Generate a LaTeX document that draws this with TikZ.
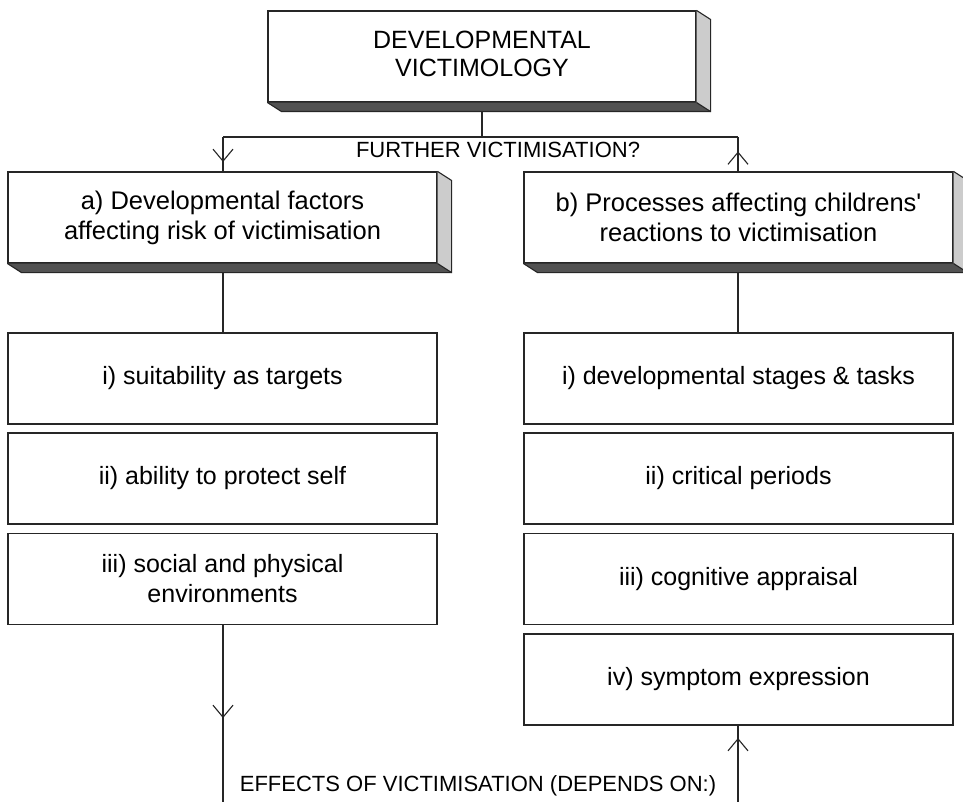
\documentclass[tikz,border=0pt]{standalone}
\usepackage{fontspec}
\setmainfont{Liberation Sans}[Ligatures=TeXOff]
\usetikzlibrary{calc,arrows.meta,decorations.markings}

% depth of the extruded slab behind the raised boxes
\newcommand{\slabdx}{14}
\newcommand{\slabdy}{9}

% grey side and bottom faces of a raised box
\newcommand{\slab}[1]{%
  \fill[sideface] (#1.north east) -- ++(\slabdx,\slabdy) -- ($(#1.south east)+(\slabdx,\slabdy)$) -- (#1.south east) -- cycle;
  \fill[bottomface] (#1.south west) -- (#1.south east) -- ($(#1.south east)+(\slabdx,\slabdy)$) -- ($(#1.south west)+(\slabdx,\slabdy)$) -- cycle;
  \draw[edge] (#1.north east) -- ++(\slabdx,\slabdy) -- ($(#1.south east)+(\slabdx,\slabdy)$) -- ($(#1.south west)+(\slabdx,\slabdy)$) -- (#1.south west);
  \draw[edge] (#1.south east) -- ++(\slabdx,\slabdy);
}

\tikzset{
  x=1pt, y=-1pt,
  edge/.style={draw=black!85, line width=1.1pt},
  sideface/.style={fill=black!20},
  bottomface/.style={fill=black!68},
  raised/.style={edge, fill=white, inner sep=0pt, align=center,
    minimum width=429pt, minimum height=91pt, font=\fontsize{25.5}{30}\selectfont},
  headbox/.style={raised, minimum width=428pt, font=\fontsize{25}{29}\selectfont},
  itembox/.style={edge, fill=white, inner sep=0pt, align=center,
    minimum width=429pt, minimum height=91pt, font=\fontsize{25}{30}\selectfont},
  flowlabel/.style={font=\fontsize{22}{26}\selectfont, inner sep=0pt},
  link/.style={edge},
  midtip/.style={postaction=decorate, decoration={markings,
    mark=at position #1 with {\arrow{Straight Barb[length=12pt,width=20pt,line width=1.1pt]}}}},
}

\begin{document}
\begin{tikzpicture}
\useasboundingbox[fill=white] (0,0) rectangle (963,802);

% top heading
\node[headbox] (top) at (482,56.5) {\raisebox{8pt}{\begin{tabular}{@{}c@{}}DEVELOPMENTAL\\[-1pt]VICTIMOLOGY\end{tabular}}};
\slab{top}

% the two branches
\node[raised] (a) at (222.5,217.5) {a) Developmental factors\\affecting risk of victimisation};
\slab{a}
\node[raised] (b) at (738.5,217.5) {b) Processes affecting childrens'\\reactions to victimisation};
\slab{b}

% left column items
\node[itembox] (a1) at (222.5,378.5) {i) suitability as targets};
\node[itembox] (a2) at (222.5,478.5) {ii) ability to protect self};
\node[itembox] (a3) at (222.5,579) {iii) social and physical\\environments};

% right column items
\node[itembox] (b1) at (738.5,378.5) {i) developmental stages \& tasks};
\node[itembox] (b2) at (738.5,478.5) {ii) critical periods};
\node[itembox] (b3) at (738.5,579) {iii) cognitive appraisal};
\node[itembox] (b4) at (738.5,679.5) {iv) symptom expression};

% junction under the heading
\coordinate (topfoot) at (482,112);
\coordinate (jmid) at (482,137);
\coordinate (jleft) at (223,137);
\coordinate (jright) at (738,137);
\coordinate (afoot) at (223,272);
\coordinate (bfoot) at (738,272);
\coordinate (lowleft) at (223,802);
\coordinate (lowright) at (738,802);

\draw[link] (topfoot) -- (jmid);
\draw[link] (jleft) -- (jright);
\draw[link, midtip=25pt] (jleft) -- (a.north -| jleft);
\draw[link, midtip=20pt] (b.north -| jright) -- (jright);

\draw[link] (afoot) -- (a1.north -| afoot);
\draw[link] (bfoot) -- (b1.north -| bfoot);

\draw[link, midtip=93pt] (a3.south -| lowleft) -- (lowleft);
\draw[link, midtip=64pt] (lowright) -- (b4.south -| lowright);

\node[flowlabel] (further) at (498,150) {FURTHER VICTIMISATION?};
\node[flowlabel] (effects) at (478,786) {EFFECTS OF VICTIMISATION (DEPENDS ON:)};
\end{tikzpicture}
\end{document}
